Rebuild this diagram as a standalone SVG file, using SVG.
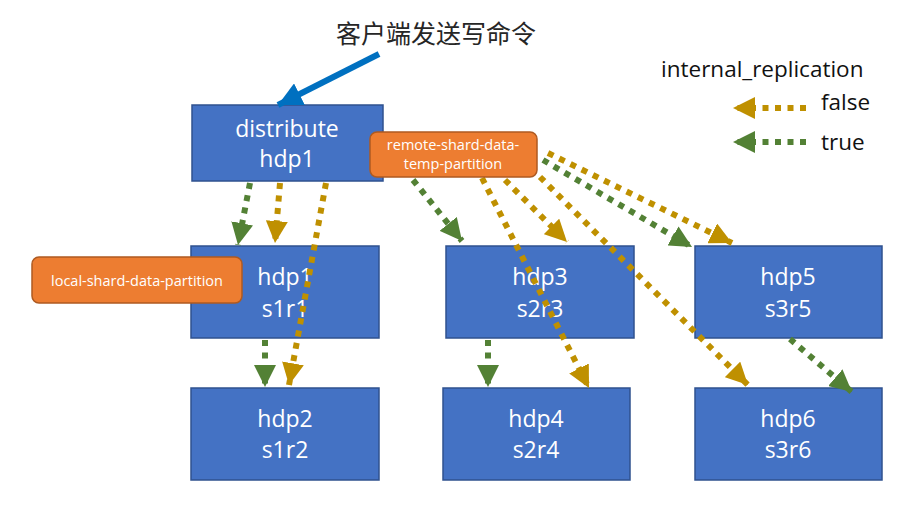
<svg xmlns="http://www.w3.org/2000/svg" width="906" height="508" viewBox="0 0 906 508">
<style>
.box{fill:#4472C4;stroke:#2F528F;stroke-width:1.5}
.lbl{fill:#ED7D31;stroke:#AE5A21;stroke-width:1.5}
.nt{font-family:"Open Sans","Liberation Sans",sans-serif;font-size:23px;fill:#fff;text-anchor:middle}
.lt{font-family:"Open Sans","Liberation Sans",sans-serif;font-size:14.5px;fill:#fff;text-anchor:middle}
.lg{font-family:"Open Sans","Liberation Sans",sans-serif;font-size:22.5px;fill:#111}
.gold{fill:none;stroke:#BF9000;stroke-width:6;stroke-dasharray:6 6.5;marker-end:url(#hg)}
.green{fill:none;stroke:#538135;stroke-width:6;stroke-dasharray:6 6.5;marker-end:url(#hn)}
</style>
<defs>
<marker id="hg" markerUnits="userSpaceOnUse" markerWidth="22" markerHeight="22" refX="20" refY="10" orient="auto" viewBox="0 0 20 20"><path d="M0,0 L20,10 L0,20 z" fill="#BF9000"/></marker>
<marker id="hn" markerUnits="userSpaceOnUse" markerWidth="22" markerHeight="22" refX="20" refY="10" orient="auto" viewBox="0 0 20 20"><path d="M0,0 L20,10 L0,20 z" fill="#538135"/></marker>
<marker id="hb" markerUnits="userSpaceOnUse" markerWidth="24" markerHeight="24" refX="22" refY="11" orient="auto" viewBox="0 0 22 22"><path d="M0,0 L22,11 L0,22 z" fill="#0070C0"/></marker>
</defs>
<rect width="906" height="508" fill="#fff"/>
<text x="436" y="43" text-anchor="middle" font-family="'Noto Sans CJK SC',sans-serif" font-size="25" fill="#262626">客户端发送写命令</text>
<g id="legend">
<text class="lg" x="661" y="77">internal_replication</text>
<line class="gold" x1="806" y1="108" x2="733" y2="108"/>
<text class="lg" x="821" y="110">false</text>
<line class="green" x1="806" y1="142" x2="733" y2="142"/>
<text class="lg" x="821" y="150">true</text>
</g>
<g id="distribute"><rect class="box" x="192" y="105" width="191" height="76"/><text class="nt" x="287" y="137">distribute</text><text class="nt" x="287" y="167">hdp1</text></g>
<g id="hdp1"><rect class="box" x="191" y="246" width="188" height="92"/><text class="nt" x="285" y="285">hdp1</text><text class="nt" x="285" y="317">s1r1</text></g>
<g id="hdp3"><rect class="box" x="446" y="246" width="188" height="92"/><text class="nt" x="540" y="285">hdp3</text><text class="nt" x="540" y="317">s2r3</text></g>
<g id="hdp5"><rect class="box" x="695" y="246" width="187" height="92"/><text class="nt" x="788" y="285">hdp5</text><text class="nt" x="788" y="317">s3r5</text></g>
<g id="hdp2"><rect class="box" x="191" y="388" width="188" height="92"/><text class="nt" x="285" y="427">hdp2</text><text class="nt" x="285" y="458">s1r2</text></g>
<g id="hdp4"><rect class="box" x="443" y="388" width="187" height="92"/><text class="nt" x="536" y="427">hdp4</text><text class="nt" x="536" y="458">s2r4</text></g>
<g id="hdp6"><rect class="box" x="695" y="388" width="187" height="92"/><text class="nt" x="788" y="427">hdp6</text><text class="nt" x="788" y="458">s3r6</text></g>
<g id="connectors">
<line x1="379" y1="54" x2="278" y2="105" stroke="#0070C0" stroke-width="6" marker-end="url(#hb)"/>
<line class="green" x1="250" y1="183" x2="238" y2="245"/>
<line class="gold" x1="280" y1="183" x2="275" y2="243"/>
<line class="gold" x1="326" y1="183" x2="289" y2="385"/>
<line class="green" x1="265" y1="340" x2="265" y2="387"/>
<line class="green" x1="413" y1="180" x2="462" y2="241"/>
<line class="gold" x1="482" y1="178" x2="589" y2="388"/>
<line class="gold" x1="505" y1="180" x2="567" y2="242"/>
<line class="gold" x1="540" y1="177" x2="748" y2="385"/>
<line class="green" x1="543" y1="160" x2="692" y2="247"/>
<line class="gold" x1="548" y1="153" x2="732" y2="243"/>
<line class="green" x1="488" y1="340" x2="488" y2="387"/>
<line class="green" x1="790" y1="339" x2="852" y2="392"/>
</g>
<g id="remote-label"><rect class="lbl" x="370" y="132" width="167" height="45" rx="7"/><text class="lt" x="453" y="150">remote-shard-data-</text><text class="lt" x="453" y="169">temp-partition</text></g>
<g id="local-label"><rect class="lbl" x="32" y="257" width="210" height="46" rx="7"/><text class="lt" x="137" y="286">local-shard-data-partition</text></g>
</svg>
